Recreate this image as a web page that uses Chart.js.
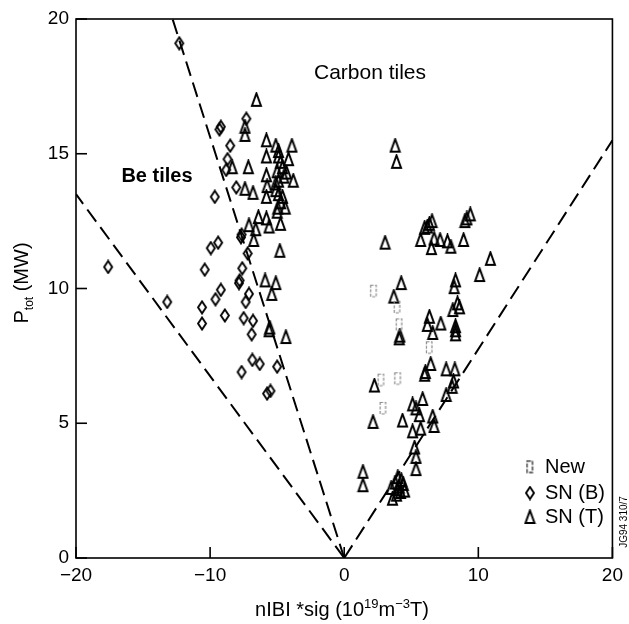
<!DOCTYPE html>
<html><head><meta charset="utf-8">
<script src="https://cdn.jsdelivr.net/npm/chart.js@4/dist/chart.umd.min.js"></script>
<style>html,body{margin:0;padding:0;background:#fff}#wrap{width:629px;height:624px}</style>
</head><body><div id="wrap"><canvas id="c" width="629" height="624"></canvas></div>
<script>
// ---- data ----
const xTicks = [-20, -10, 0, 10, 20];
const yTicks = [0, 5, 10, 15, 20];

const newX = [2.2, 3.95, 4.1, 6.35, 2.75, 4.0, 2.9];
const newY = [9.9, 9.3, 8.65, 7.8, 6.6, 6.65, 5.55];

const snbX = [-12.3, -17.6, -13.2, -9.3, -9.2, -8.5, -8.7, -8.8, -8.05, -9.65, -7.3, -9.95, -9.4, -10.4, -7.7, -7.65, -7.2, -7.6, -7.85, -7.8, -7.1, -7.35, -9.2, -9.6, -10.6, -10.6, -8.9, -7.5, -6.8, -6.9, -6.85, -6.3, -7.65, -5.5, -5.75, -5.0];
const snbY = [19.1, 10.8, 9.5, 15.9, 16.0, 15.3, 14.8, 14.4, 13.75, 13.4, 16.3, 11.5, 11.7, 10.7, 11.9, 12.0, 11.3, 10.75, 10.2, 10.3, 9.8, 9.5, 9.95, 9.6, 9.3, 8.7, 9.0, 8.9, 8.8, 8.3, 7.35, 7.2, 6.9, 6.2, 6.1, 7.1];

const sntX = [-6.55, -7.4, -7.4, -5.8, -5.1, -3.9, -5.8, -7.15, -8.35, -5.8, -4.9, -4.6, -4.15, -3.8, -4.3, -4.9, -5.1, -5.75, -5.8, -7.4, -6.8, -4.6, -5.0, -4.4, -6.4, -5.8, -4.75, -7.1, -5.6, -4.9, -4.75, -5.0, -4.5, -5.1, -4.9, -4.75, -4.95, -6.6, -6.75, -4.8, -5.9, -5.1, -5.4, -5.6, -5.55, -4.35,
  3.8, 3.9, 3.05, 4.25, 3.7, 9.15, 9.4, 9.0, 8.9, 10.9, 10.1, 8.3, 8.2, 8.45, 8.1, 8.6, 5.7, 6.0, 6.35, 6.55, 6.2, 6.7, 7.15, 7.7, 7.95, 6.5, 6.35, 6.2, 7.2, 8.3, 4.1, 4.15, 6.6, 8.3, 8.3, 6.45, 6.0, 6.05, 7.6, 8.25, 8.15, 8.05, 7.6, 5.85, 5.1, 5.35, 5.6, 6.6, 6.7, 5.7, 5.1, 4.35, 2.15, 2.25, 5.25, 5.35, 5.35, 1.4, 1.4, 3.5, 3.8, 4.1, 4.4, 4.2, 3.9, 4.5, 4.0, 3.6, 4.25, 3.95];
const sntY = [17.0, 16.0, 15.7, 15.5, 15.3, 15.3, 14.9, 14.5, 14.5, 14.2, 14.9, 14.5, 14.8, 14.0, 14.3, 14.0, 13.65, 13.8, 13.4, 13.7, 13.55, 13.4, 12.85, 13.0, 12.65, 12.6, 12.4, 12.35, 12.3, 15.1, 14.7, 14.35, 14.15, 13.9, 13.5, 13.2, 13.0, 12.2, 11.8, 11.4, 10.3, 10.2, 9.8, 8.45, 8.55, 8.2,
  15.3, 14.7, 11.7, 10.2, 9.7, 12.6, 12.75, 12.5, 11.8, 11.1, 10.5, 10.3, 10.05, 9.45, 9.2, 9.3, 11.8, 12.25, 12.4, 12.5, 12.3, 11.85, 11.8, 11.75, 11.55, 11.5, 8.95, 8.65, 8.7, 8.6, 8.15, 8.25, 8.35, 8.3, 8.45, 7.2, 6.8, 6.9, 7.0, 7.0, 6.55, 6.35, 6.05, 5.9, 5.7, 5.55, 5.3, 5.25, 4.9, 4.8, 4.7, 5.1, 5.05, 6.4, 4.1, 3.75, 3.3, 3.2, 2.7, 2.6, 2.8, 2.65, 2.75, 2.45, 2.35, 2.5, 3.0, 2.2, 2.9, 2.55];

// boundary lines (Be / Carbon tile regions)
const lineSteepX = [0, -12.8];
const lineSteepY = [0, 20];
const lineLeftX = [0, -20];
const lineLeftY = [0, 13.5];
const lineRightX = [0, 20];
const lineRightY = [0, 15.5];

// ---- marker glyphs ----
function glyph(w, h, draw) {
  const c = document.createElement('canvas'); c.width = w; c.height = h;
  const g = c.getContext('2d'); g.strokeStyle = '#000'; g.lineWidth = 2; g.lineJoin = 'miter';
  draw(g); return c;
}
const triGlyph = glyph(13, 16, g => { g.beginPath(); g.moveTo(6.5, 1.5); g.lineTo(11, 14); g.lineTo(2, 14); g.closePath(); g.stroke(); });
const diaGlyph = glyph(12, 15, g => { g.lineWidth = 1.9; g.beginPath(); g.moveTo(6, 1.5); g.lineTo(10, 7.5); g.lineTo(6, 13.5); g.lineTo(2, 7.5); g.closePath(); g.stroke(); });
const newGlyph = glyph(9, 15, g => { g.strokeStyle = '#8a8a8a'; g.lineWidth = 1.2; g.setLineDash([3, 1.5]); g.strokeRect(1.5, 1.5, 5.5, 11.5); });
const newLegGlyph = glyph(9, 15, g => { g.strokeStyle = '#333'; g.lineWidth = 1.4; g.setLineDash([4, 1.5]); g.strokeRect(1.5, 1.5, 5.5, 11.5); });

const pts = (xs, ys) => xs.map((x, i) => ({ x, y: ys[i] }));
const FONT = '"Liberation Sans", Arial, Helvetica, sans-serif';

function dashLine(xs, ys) {
  return { type: 'line', data: pts(xs, ys), showLine: true, borderColor: '#000', borderWidth: 2, borderDash: [15, 7], pointRadius: 0, fill: false, tension: 0 };
}

const deco = {
  id: 'deco',
  afterDraw(chart) {
    const { ctx, chartArea: a, scales } = chart;
    const xs = scales.x, ys = scales.y;
    ctx.save();
    ctx.strokeStyle = '#000'; ctx.lineWidth = 1.6;
    ctx.strokeRect(a.left, a.top, a.right - a.left, a.bottom - a.top);
    // inward ticks
    yTicks.forEach(v => { const p = ys.getPixelForValue(v); ctx.beginPath(); ctx.moveTo(a.left, p); ctx.lineTo(a.left + 11, p); ctx.stroke(); });
    xTicks.forEach(v => { const p = xs.getPixelForValue(v); ctx.beginPath(); ctx.moveTo(p, a.bottom); ctx.lineTo(p, a.bottom - 11); ctx.stroke(); });
    ctx.fillStyle = '#000';
    // annotations
    ctx.textBaseline = 'middle'; ctx.textAlign = 'center';
    ctx.font = '21px ' + FONT; ctx.fillText('Carbon tiles', 370, 73);
    ctx.font = 'bold 20px ' + FONT; ctx.fillText('Be tiles', 157, 176);
    // legend
    ctx.textAlign = 'left'; ctx.font = '20px ' + FONT;
    const leg = [[newLegGlyph, 'New', 467], [diaGlyph, 'SN (B)', 493], [triGlyph, 'SN (T)', 517]];
    leg.forEach(([g, t, y]) => { ctx.drawImage(g, 530 - g.width / 2, y - g.height / 2); ctx.fillText(t, 545, y); });
    // x title with superscripts
    const big = '20px ' + FONT, small = '13px ' + FONT;
    const parts = [['nIBI *sig (10', big, 0], ['19', small, -8], ['m', big, 0], ['\u22123', small, -8], ['T)', big, 0]];
    let w = 0; parts.forEach(p => { ctx.font = p[1]; w += ctx.measureText(p[0]).width; });
    let x = 342 - w / 2; ctx.textBaseline = 'alphabetic';
    parts.forEach(p => { ctx.font = p[1]; ctx.fillText(p[0], x, 616 + p[2]); x += ctx.measureText(p[0]).width; });
    // y title rotated
    ctx.save(); ctx.translate(28, 283); ctx.rotate(-Math.PI / 2);
    const yp = [['P', '20px ' + FONT, 0], ['tot', '12px ' + FONT, 5], [' (MW)', '20px ' + FONT, 0]];
    w = 0; yp.forEach(p => { ctx.font = p[1]; w += ctx.measureText(p[0]).width; });
    x = -w / 2; yp.forEach(p => { ctx.font = p[1]; ctx.fillText(p[0], x, p[2]); x += ctx.measureText(p[0]).width; });
    ctx.restore();
    // figure code
    ctx.save(); ctx.translate(627, 522); ctx.rotate(-Math.PI / 2);
    ctx.font = '10px ' + FONT; ctx.textAlign = 'center'; ctx.fillText('JG94 310/7', 0, 0);
    ctx.restore();
    ctx.restore();
  }
};

new Chart(document.getElementById('c'), {
  type: 'scatter',
  data: {
    datasets: [
      dashLine(lineSteepX, lineSteepY),
      dashLine(lineLeftX, lineLeftY),
      dashLine(lineRightX, lineRightY),
      { label: 'New', data: pts(newX, newY), pointStyle: newGlyph, pointRadius: 6 },
      { label: 'SN (B)', data: pts(snbX, snbY), pointStyle: diaGlyph, pointRadius: 6 },
      { label: 'SN (T)', data: pts(sntX, sntY), pointStyle: triGlyph, pointRadius: 6 }
    ]
  },
  options: {
    responsive: false, animation: false, devicePixelRatio: 1,
    layout: { padding: { left: 0, right: 12, top: 19, bottom: 0 } },
    plugins: { legend: { display: false }, tooltip: { enabled: false } },
    scales: {
      x: {
        type: 'linear', min: -20, max: 20,
        afterBuildTicks: s => { s.ticks = xTicks.map(v => ({ value: v })); },
        afterFit: s => { s.height = 66; },
        grid: { display: false, drawTicks: false }, border: { display: false },
        ticks: { padding: 6, color: '#000', font: { family: FONT, size: 19 }, callback: v => String(v).replace('-', '\u2212') }
      },
      y: {
        type: 'linear', min: 0, max: 20,
        afterBuildTicks: s => { s.ticks = yTicks.map(v => ({ value: v })); },
        afterFit: s => { s.width = 76; },
        grid: { display: false, drawTicks: false }, border: { display: false },
        ticks: { padding: 7, color: '#000', font: { family: FONT, size: 19 } }
      }
    }
  },
  plugins: [deco]
});
</script></body></html>
